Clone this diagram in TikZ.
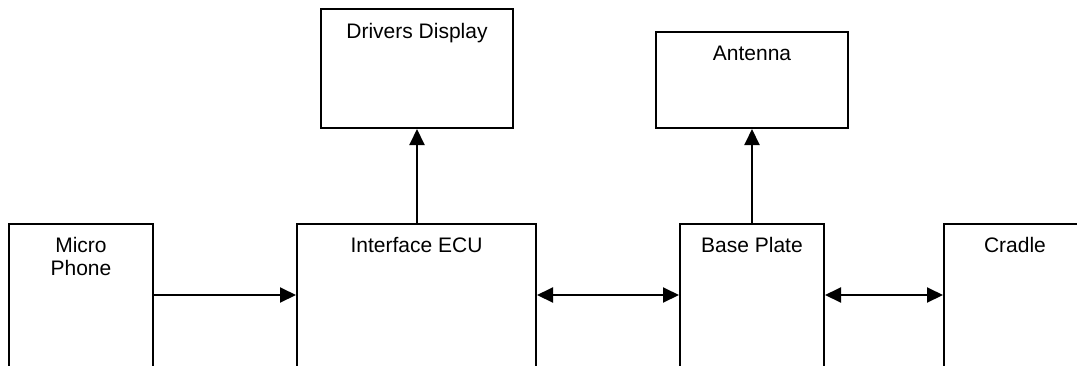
\documentclass[tikz,border=0pt]{standalone}
\usepackage{fontspec}
\setmainfont{Liberation Sans}
\usetikzlibrary{arrows.meta}
\begin{document}
\begin{tikzpicture}[x=1pt,y=-1pt,
  blk/.style={draw, line width=2pt, rectangle, inner sep=0pt},
  lbl/.style={anchor=north, inner sep=0pt, align=center, font=\fontsize{21}{23.5}\selectfont},
  conn/.style={line width=2pt, -{Triangle[length=16pt,width=15pt]}},
  biconn/.style={line width=2pt, {Triangle[length=16pt,width=15pt]}-{Triangle[length=16pt,width=15pt]}}
]
\useasboundingbox (0,0) rectangle (1077,365);
\clip (0,0) rectangle (1077,365);
\fill[white] (0,0) rectangle (1077,365);
% boxes
\node[blk, minimum width=192pt, minimum height=119pt] (dd) at (417,68.5) {};
\node[blk, minimum width=192pt, minimum height=96pt] (ant) at (752,80) {};
\node[blk, minimum width=144pt, minimum height=196pt] (mic) at (81,322) {};
\node[blk, minimum width=239pt, minimum height=196pt] (ecu) at (416.5,322) {};
\node[blk, minimum width=144pt, minimum height=196pt] (base) at (752,322) {};
\node[blk, minimum width=142pt, minimum height=196pt] (cradle) at (1015,322) {};
% labels
\node[lbl] (tdd) at ([yshift=-15pt]dd.north) {Drivers Display};
\node[lbl] (tant) at ([yshift=-15pt]ant.north) {Antenna};
\node[lbl] (tmic) at ([yshift=-14pt]mic.north) {Micro\\Phone};
\node[lbl] (tecu) at ([yshift=-14pt]ecu.north) {Interface ECU};
\node[lbl] (tbase) at ([yshift=-14pt]base.north) {Base Plate};
\node[lbl] (tcradle) at ([yshift=-14pt]cradle.north) {Cradle};
% connectors
\coordinate (row) at (0,295);
\draw[conn] (mic.east |- row) -- (ecu.west |- row);
\draw[biconn] (ecu.east |- row) -- (base.west |- row);
\draw[biconn] (base.east |- row) -- (cradle.west |- row);
\draw[conn] (dd.south |- ecu.north) -- (dd.south);
\draw[conn] (base.north) -- (ant.south);
\end{tikzpicture}
\end{document}
